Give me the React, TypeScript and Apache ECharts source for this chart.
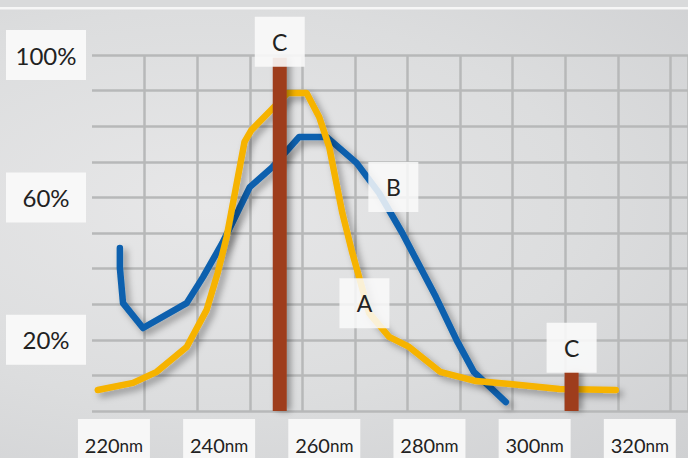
import React, { useEffect, useRef } from "react";
import * as echarts from "echarts";

// wavelength (nm), relative absorbance (%)
const seriesA: [number, number][] = [
  [211.1, 5.9], [217.8, 7.9], [222.3, 11.0], [228.0, 18.0], [231.8, 28.4],
  [233.9, 38.8], [235.6, 48.9], [239.0, 75.6], [240.3, 78.9], [244.1, 84.6],
  [247.2, 89.3], [250.8, 89.3], [253.2, 82.6], [255.1, 74.2], [257.6, 55.6],
  [259.5, 44.4], [262.7, 27.5], [266.5, 20.8], [270.3, 18.0], [276.2, 11.0],
  [283.0, 8.4], [289.5, 7.6], [298.9, 6.2], [309.6, 5.9],
];
const seriesB: [number, number][] = [
  [215.3, 45.8], [215.3, 40.2], [215.9, 30.3], [219.7, 23.3], [228.0, 30.3],
  [231.1, 37.6], [234.8, 47.2], [240.0, 62.9], [244.3, 68.5], [249.4, 77.0],
  [254.6, 77.0], [260.3, 69.7], [264.6, 61.2], [269.0, 50.0], [275.4, 32.0],
  [279.4, 19.7], [282.6, 11.0], [288.7, 2.5],
];
const barC: [number, number][] = [
  [245.7, 99.2],
  [301.2, 11.0],
];
const markA: [number, number] = [261.8, 30.3];
const markB: [number, number] = [267.3, 62.9];
const yTickLabels = [20, 60, 100];
const xTickLabels = [220, 240, 260, 280, 300, 320];
const seriesNames = ["A", "B", "C"];

const FONT = "Lato, 'Noto Sans', sans-serif";
const BOX = "rgba(250,250,250,0.9)";
const GRID_COLOR = "#b7b8b9";

export default function App() {
  const ref = useRef<HTMLDivElement>(null);
  useEffect(() => {
    if (!ref.current) return;
    const chart = echarts.init(ref.current, undefined, { renderer: "svg" });
    const labelBox = {
      show: true,
      color: "#222",
      fontFamily: FONT,
      fontSize: 23,
      lineHeight: 26,
      width: 26,
      align: "center",
      padding: [12, 12, 12, 12],
      backgroundColor: BOX,
    };
    const lineShadow = {
      shadowColor: "rgba(0,0,0,0.35)",
      shadowBlur: 7,
      shadowOffsetX: 4,
      shadowOffsetY: 4,
    };
    chart.setOption({
      animation: false,
      backgroundColor: "transparent",
      textStyle: { fontFamily: FONT },
      graphic: [
        { type: "rect", shape: { x: 0, y: 0, width: 688, height: 7 }, style: { fill: "#d9dadb" } },
        { type: "rect", shape: { x: 0, y: 7, width: 688, height: 2.5 }, style: { fill: "#f6f6f6" } },
      ],
      grid: { left: 92, right: 0, top: 55, bottom: 47, outerBoundsMode: "none", containLabel: false },
      xAxis: [
        {
          type: "value",
          min: 210,
          max: 323.33,
          interval: 10,
          axisLine: { show: false },
          axisTick: { show: false },
          axisLabel: { show: false },
          splitLine: {
            show: true,
            showMinLine: false,
            lineStyle: { color: GRID_COLOR, width: 2.5 },
          },
        },
        {
          type: "value",
          min: 215.83,
          max: 329.16,
          position: "bottom",
          axisLine: { show: false },
          axisTick: { show: false },
          splitLine: { show: false },
          axisLabel: {
            show: true,
            customValues: xTickLabels,
            margin: 8,
            formatter: (v: number) => `{n|${v}}{u|nm}`,
            backgroundColor: "#f7f7f7",
            padding: [15, 6, 20, 6],
            width: 60,
            align: "center",
            rich: {
              n: { fontSize: 20, color: "#222", fontFamily: FONT, lineHeight: 22 },
              u: { fontSize: 17, color: "#222", fontFamily: FONT, lineHeight: 22 },
            },
          },
        },
      ],
      yAxis: {
        type: "value",
        min: 0,
        max: 100,
        interval: 10,
        axisLine: { show: false },
        axisTick: { show: false },
        axisLabel: {
          show: true,
          customValues: yTickLabels,
          formatter: "{value}%",
          margin: 46,
          align: "center",
          verticalAlign: "middle",
          width: 60,
          lineHeight: 26,
          padding: [12, 10, 12, 10],
          backgroundColor: "#f8f8f8",
          color: "#222",
          fontSize: 24,
          fontFamily: FONT,
        },
        splitLine: {
          show: true,
          lineStyle: { color: GRID_COLOR, width: 2.5 },
        },
      },
      series: [
        {
          name: seriesNames[1],
          type: "line",
          data: seriesB,
          showSymbol: false,
          symbol: "none",
          lineStyle: { color: "#0a60ae", width: 6.5, cap: "round", join: "round", ...lineShadow },
          markPoint: {
            symbol: "rect",
            symbolSize: 50,
            itemStyle: { color: "rgba(250,250,250,0.85)" },
            label: { show: true, formatter: seriesNames[1], color: "#222", fontSize: 23, fontFamily: FONT },
            data: [{ coord: markB }],
          },
        },
        {
          name: seriesNames[0],
          type: "line",
          data: seriesA,
          showSymbol: false,
          symbol: "none",
          lineStyle: { color: "#f6b300", width: 6.5, cap: "round", join: "round", ...lineShadow },
          markPoint: {
            symbol: "rect",
            symbolSize: 50,
            itemStyle: { color: "rgba(250,250,250,0.85)" },
            label: { show: true, formatter: seriesNames[0], color: "#222", fontSize: 23, fontFamily: FONT },
            data: [{ coord: markA }],
          },
        },
        {
          name: seriesNames[2],
          type: "bar",
          barWidth: 14,
          z: 5,
          itemStyle: {
            color: "#9e3e1b",
            shadowColor: "rgba(0,0,0,0.35)",
            shadowBlur: 6,
            shadowOffsetX: 4,
            shadowOffsetY: 0,
          },
          label: { ...labelBox, position: "top", formatter: seriesNames[2], distance: 0 },
          data: [
            { value: barC[0], label: { distance: -9 } },
            { value: barC[1], label: { distance: -1 } },
          ],
        },
      ],
    });
    return () => chart.dispose();
  }, []);
  return (
    <div
      ref={ref}
      style={{
        position: "absolute",
        left: 0,
        top: 0,
        width: 688,
        height: 458,
        background:
          "radial-gradient(ellipse at 30% 45%, #e7e7e8 0%, #dcddde 55%, #cfd0d2 100%)",
      }}
    />
  );
}
